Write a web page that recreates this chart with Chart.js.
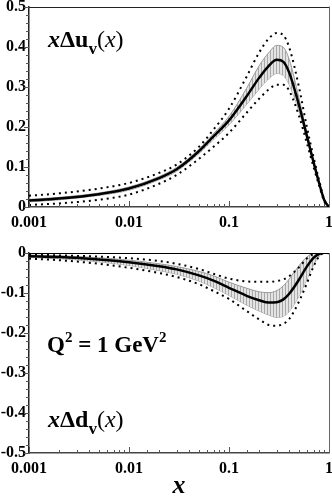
<!DOCTYPE html>
<html>
<head>
<meta charset="utf-8">
<script src="https://cdn.jsdelivr.net/npm/chart.js@4.4.1/dist/chart.umd.min.js"></script>
<style>
  body { margin: 0; background: #fff; }
  .panel { position: absolute; left: 0; }
</style>
</head>
<body>
<canvas id="topChart" class="panel" width="332" height="230" style="top:0"></canvas>
<canvas id="botChart" class="panel" width="332" height="269" style="top:230px"></canvas>
<script>
// x grid shared by every curve
const xs = [0.001, 0.002, 0.005, 0.01, 0.02, 0.03, 0.05, 0.07, 0.1, 0.15, 0.2, 0.25, 0.3, 0.35, 0.4, 0.5, 0.6, 0.7, 0.8, 0.9, 1];
const xTickLabels = ['0.001', '0.01', '0.1', '1'];

// x Delta u_v
const uMid    = [0.016, 0.021, 0.032, 0.046, 0.072, 0.094, 0.139, 0.176, 0.216, 0.276, 0.322, 0.352, 0.367, 0.362, 0.335, 0.255, 0.178, 0.112, 0.058, 0.016, 0];
const uBandHi = [0.019, 0.024, 0.035, 0.050, 0.076, 0.099, 0.144, 0.183, 0.226, 0.296, 0.352, 0.385, 0.403, 0.398, 0.368, 0.272, 0.185, 0.116, 0.060, 0.017, 0];
const uBandLo = [0.013, 0.018, 0.029, 0.042, 0.068, 0.089, 0.133, 0.168, 0.205, 0.256, 0.294, 0.320, 0.333, 0.328, 0.305, 0.240, 0.171, 0.108, 0.056, 0.015, 0];
const uDotHi  = [0.028, 0.034, 0.046, 0.060, 0.085, 0.106, 0.150, 0.193, 0.245, 0.325, 0.385, 0.420, 0.434, 0.428, 0.398, 0.300, 0.200, 0.125, 0.065, 0.018, 0];
const uDotLo  = [0.005, 0.009, 0.018, 0.031, 0.058, 0.080, 0.120, 0.150, 0.185, 0.235, 0.270, 0.293, 0.305, 0.305, 0.290, 0.228, 0.160, 0.100, 0.052, 0.013, 0];

// x Delta d_v
const dMid    = [-0.008, -0.010, -0.016, -0.023, -0.033, -0.041, -0.056, -0.069, -0.087, -0.107, -0.118, -0.124, -0.123, -0.116, -0.102, -0.067, -0.034, -0.012, -0.002, 0.001, 0];
const dBandHi = [-0.005, -0.007, -0.012, -0.018, -0.027, -0.034, -0.046, -0.057, -0.073, -0.088, -0.097, -0.099, -0.094, -0.082, -0.065, -0.032, -0.010, 0, 0.002, 0.002, 0];
const dBandLo = [-0.011, -0.014, -0.022, -0.031, -0.044, -0.053, -0.070, -0.086, -0.106, -0.130, -0.145, -0.155, -0.161, -0.158, -0.146, -0.108, -0.066, -0.030, -0.008, 0, 0];
const dDotHi  = [-0.004, -0.006, -0.009, -0.013, -0.020, -0.027, -0.040, -0.052, -0.064, -0.071, -0.072, -0.072, -0.070, -0.066, -0.058, -0.036, -0.014, -0.002, 0.002, 0.001, 0];
const dDotLo  = [-0.014, -0.018, -0.027, -0.037, -0.050, -0.060, -0.078, -0.095, -0.115, -0.145, -0.166, -0.180, -0.182, -0.177, -0.165, -0.122, -0.076, -0.034, -0.008, 0, 0];

const serif = '"Liberation Serif", "DejaVu Serif", serif';

function pts(vals) {
  return xs.map((x, i) => ({x: x, y: vals[i]}));
}

function isDecade(v) {
  const l = Math.log10(v);
  return Math.abs(l - Math.round(l)) < 1e-9;
}

function hatch() {
  const c = document.createElement('canvas');
  c.width = 3; c.height = 4;
  const g = c.getContext('2d');
  g.fillStyle = '#e4e4e4';
  g.fillRect(0, 0, 3, 4);
  g.fillStyle = '#a8a8a8';
  g.fillRect(0, 0, 1, 4);
  return g.createPattern(c, 'repeat');
}

function makeSets(mid, bhi, blo, dhi, dlo) {
  return [
    {data: pts(mid), borderColor: '#000', borderWidth: 2.5, pointRadius: 0, cubicInterpolationMode: 'monotone'},
    {data: pts(dhi), borderColor: '#000', borderWidth: 2, borderDash: [2, 4], pointRadius: 0, cubicInterpolationMode: 'monotone'},
    {data: pts(dlo), borderColor: '#000', borderWidth: 2, borderDash: [2, 4], pointRadius: 0, cubicInterpolationMode: 'monotone'},
    {data: pts(bhi), borderColor: '#999', borderWidth: 1, pointRadius: 0, cubicInterpolationMode: 'monotone', fill: '+1', backgroundColor: hatch()},
    {data: pts(blo), borderColor: '#999', borderWidth: 1, pointRadius: 0, cubicInterpolationMode: 'monotone'}
  ];
}

// ticks, frame and in-plot labels
const decor = {
  id: 'decor',
  afterDraw(chart, args, opts) {
    const {ctx, chartArea: a, scales: {x, y}} = chart;
    ctx.save();
    ctx.lineWidth = 1;
    ctx.strokeStyle = '#555';
    x.ticks.forEach(t => {
      const px = Math.round(x.getPixelForValue(t.value)) + 0.5;
      const len = isDecade(t.value) ? 6 : 3;
      ctx.beginPath();
      ctx.moveTo(px, a.bottom);
      ctx.lineTo(px, a.bottom - len);
      ctx.stroke();
    });
    y.ticks.forEach(t => {
      const py = Math.round(y.getPixelForValue(t.value)) + 0.5;
      const major = Math.abs(t.value * 10 - Math.round(t.value * 10)) < 1e-6;
      ctx.beginPath();
      ctx.moveTo(a.left, py);
      ctx.lineTo(a.left - (major ? 5 : 3), py);
      ctx.stroke();
    });
    // top and right edges
    ctx.strokeStyle = opts.topColor;
    ctx.beginPath();
    ctx.moveTo(a.left, Math.round(a.top) + 0.5);
    ctx.lineTo(a.right, Math.round(a.top) + 0.5);
    ctx.stroke();
    ctx.strokeStyle = '#666';
    ctx.beginPath();
    ctx.moveTo(Math.round(a.right) + 0.5, a.top);
    ctx.lineTo(Math.round(a.right) + 0.5, a.bottom);
    ctx.stroke();
    // labels made of runs
    ctx.fillStyle = '#000';
    ctx.textBaseline = 'alphabetic';
    (opts.labels || []).forEach(lab => {
      let cx = lab.x;
      lab.runs.forEach(r => {
        ctx.font = r.font;
        ctx.fillText(r.t, cx, lab.y + (r.dy || 0));
        cx += ctx.measureText(r.t).width + (r.gap || 0);
      });
    });
    ctx.restore();
  }
};

function makeChart(id, sets, yMin, yMax, xHeight, padTop, xTitle, labels, topColor) {
  return new Chart(document.getElementById(id), {
    type: 'line',
    data: {datasets: sets},
    options: {
      responsive: false,
      animation: false,
      layout: {padding: {top: padTop, right: 3, left: 0, bottom: 0}},
      plugins: {
        legend: {display: false},
        tooltip: {enabled: false},
        decor: {labels: labels, topColor: topColor}
      },
      scales: {
        x: {
          type: 'logarithmic',
          min: 0.001,
          max: 1,
          grid: {display: false, drawTicks: false},
          border: {color: '#444', width: 1.5},
          ticks: {
            autoSkip: false,
            maxRotation: 0,
            padding: 6,
            color: '#000',
            font: {family: serif, size: 16, weight: 'bold'},
            callback: v => isDecade(v) ? xTickLabels[Math.round(Math.log10(v)) + 3] : ''
          },
          title: {
            display: !!xTitle,
            text: xTitle || '',
            color: '#000',
            padding: {top: 0, bottom: 0},
            font: {family: serif, size: 26, weight: 'bold', style: 'italic', lineHeight: 1}
          },
          afterFit: s => { s.height = xHeight; s.paddingLeft = 0; s.paddingRight = 0; }
        },
        y: {
          min: yMin,
          max: yMax,
          grid: {display: false, drawTicks: false},
          border: {color: '#222', width: 1.5},
          ticks: {
            stepSize: 0.02,
            autoSkip: false,
            padding: 3,
            color: '#000',
            font: {family: serif, size: 16, weight: 'bold'},
            callback: v => Math.abs(v * 10 - Math.round(v * 10)) < 1e-6 ? String(+v.toFixed(1)) : ''
          },
          afterFit: s => { s.width = 29; s.paddingTop = 0; s.paddingBottom = 0; }
        }
      }
    },
    plugins: [decor]
  });
}

const big = 'bold 24px ' + serif;
const bigIt = 'italic bold 24px ' + serif;
const sub = 'bold 17px ' + serif;
const reg = '24px ' + serif;
const regIt = 'italic 24px ' + serif;

makeChart('topChart', makeSets(uMid, uBandHi, uBandLo, uDotHi, uDotLo), 0, 0.5, 23, 6.5, null, [
  {x: 48, y: 47, runs: [
    {t: 'x', font: bigIt}, {t: 'Δ', font: big}, {t: 'u', font: big},
    {t: 'v', font: sub, dy: 7}, {t: '(', font: reg}, {t: 'x', font: regIt}, {t: ')', font: reg}
  ]}
], '#222');

makeChart('botChart', makeSets(dMid, dBandHi, dBandLo, dDotHi, dDotLo), -0.5, 0, 46, 23, 'x', [
  {x: 47, y: 352, runs: [
    {t: 'Q', font: 'bold 23px ' + serif}, {t: '2', font: 'bold 15px ' + serif, dy: -10},
    {t: ' = 1 GeV', font: 'bold 23px ' + serif}, {t: '2', font: 'bold 15px ' + serif, dy: -10}
  ]},
  {x: 48, y: 427, runs: [
    {t: 'x', font: bigIt}, {t: 'Δ', font: big}, {t: 'd', font: big},
    {t: 'v', font: sub, dy: 7}, {t: '(', font: reg}, {t: 'x', font: regIt}, {t: ')', font: reg}
  ]}
].map(l => ({x: l.x, y: l.y - 230, runs: l.runs})), '#000');
</script>
</body>
</html>
